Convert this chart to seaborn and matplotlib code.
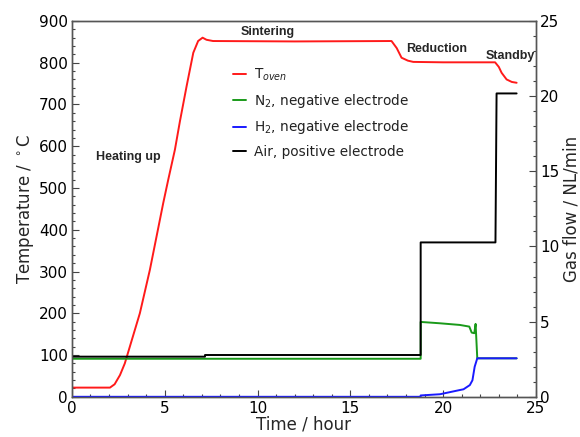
import numpy as np
import pandas as pd
import matplotlib
matplotlib.use("Agg")
import matplotlib.pyplot as plt
from matplotlib.ticker import MultipleLocator
from matplotlib.lines import Line2D
import seaborn as sns

# Oven temperature (hour, °C)
t_oven = [0, 2.05, 2.3, 2.59, 2.85, 3.12, 3.66, 4.2, 4.56, 4.92, 5.19, 5.55, 5.82,
          6.18, 6.54, 6.8, 7.04, 7.25, 7.6, 12, 17.22, 17.5, 17.76, 18.1, 18.39,
          20, 22.8, 23.0, 23.15, 23.42, 23.7, 23.96]
T_oven = [22, 22, 30, 52, 80, 120, 200, 304, 384, 464, 520, 592, 660,
          744, 824, 852, 860, 855, 852, 851, 852, 835, 812, 805, 802,
          801, 801, 790, 776, 760, 754, 752]

# Gas flows (hour, NL/min)
t_n2 = [0, 18.79, 18.79, 19.83, 20.9, 21.41, 21.54, 21.68, 21.75, 21.84, 23.96]
f_n2 = [2.53, 2.53, 4.98, 4.89, 4.78, 4.67, 4.27, 4.23, 4.85, 2.56, 2.56]

t_h2 = [0, 18.79, 18.79, 19.83, 20.9, 21.1, 21.44, 21.58, 21.7, 21.84, 23.96]
f_h2 = [0.0, 0.0, 0.09, 0.17, 0.45, 0.5, 0.78, 1.1, 2.0, 2.56, 2.56]

t_air = [0, 7.17, 7.17, 18.79, 18.79, 22.82, 22.88, 23.96]
f_air = [2.67, 2.67, 2.78, 2.78, 10.27, 10.27, 20.18, 20.18]

phases = ["Heating up", "Sintering", "Reduction", "Standby"]

sns.set_style("ticks")
plt.rcParams["font.family"] = ["DejaVu Sans"]

fig = plt.figure(figsize=(5.8, 4.37), dpi=100)
ax = fig.add_axes([0.124, 0.092, 0.8, 0.86])
ax2 = ax.twinx()

df_oven = pd.DataFrame({"t": t_oven, "v": T_oven})
sns.lineplot(data=df_oven, x="t", y="v", ax=ax, color="#ff1a1a", lw=1.4,
             sort=False, estimator=None, legend=False)

df_n2 = pd.DataFrame({"t": t_n2, "v": f_n2})
df_h2 = pd.DataFrame({"t": t_h2, "v": f_h2})
df_air = pd.DataFrame({"t": t_air, "v": f_air})
sns.lineplot(data=df_n2, x="t", y="v", ax=ax2, color="#1a9a1a", lw=1.4,
             sort=False, estimator=None, legend=False)
sns.lineplot(data=df_h2, x="t", y="v", ax=ax2, color="#1a1aff", lw=1.4,
             sort=False, estimator=None, legend=False)
sns.lineplot(data=df_air, x="t", y="v", ax=ax2, color="black", lw=1.4,
             sort=False, estimator=None, legend=False)

ax.set_xlim(0, 25)
ax.set_ylim(0, 900)
ax2.set_ylim(0, 25)

ax.xaxis.set_major_locator(MultipleLocator(5))
ax.xaxis.set_minor_locator(MultipleLocator(1))
ax.yaxis.set_major_locator(MultipleLocator(100))
ax.yaxis.set_minor_locator(MultipleLocator(20))
ax2.yaxis.set_major_locator(MultipleLocator(5))
ax2.yaxis.set_minor_locator(MultipleLocator(1))

for a in (ax, ax2):
    a.tick_params(which="major", direction="in", length=5, width=0.8,
                  labelsize=11, colors="#444444", labelcolor="black", pad=3)
    a.tick_params(which="minor", direction="in", length=2.5, width=0.8,
                  colors="#444444")
    for s in a.spines.values():
        s.set_color("#555555")
        s.set_linewidth(1.0)

ax.set_xlabel("Time / hour", fontsize=12, labelpad=0)
ax.set_ylabel("Temperature / $^\\circ$C", fontsize=12, labelpad=2)
ax2.set_ylabel("Gas flow / NL/min", fontsize=12, labelpad=2)

handles = [Line2D([], [], color="#ff1a1a", lw=1.4),
           Line2D([], [], color="#1a9a1a", lw=1.4),
           Line2D([], [], color="#1a1aff", lw=1.4),
           Line2D([], [], color="black", lw=1.4)]
labels = ["T$_{oven}$", "N$_2$, negative electrode",
          "H$_2$, negative electrode", "Air, positive electrode"]
ax2.legend(handles, labels, loc="upper left", bbox_to_anchor=(0.32, 0.91),
           frameon=False, fontsize=9.8, handlelength=1.0, handletextpad=0.6,
           labelspacing=0.62, labelcolor="#222222")

ann = dict(fontsize=9, fontweight="bold", family="Liberation Sans", va="center")
ax.text(1.3, 575, phases[0], **ann)
ax.text(9.1, 873, phases[1], **ann)
ax.text(18.0, 832, phases[2], **ann)
ax.text(22.3, 815, phases[3], **ann)

fig.savefig("out.png", dpi=100)
